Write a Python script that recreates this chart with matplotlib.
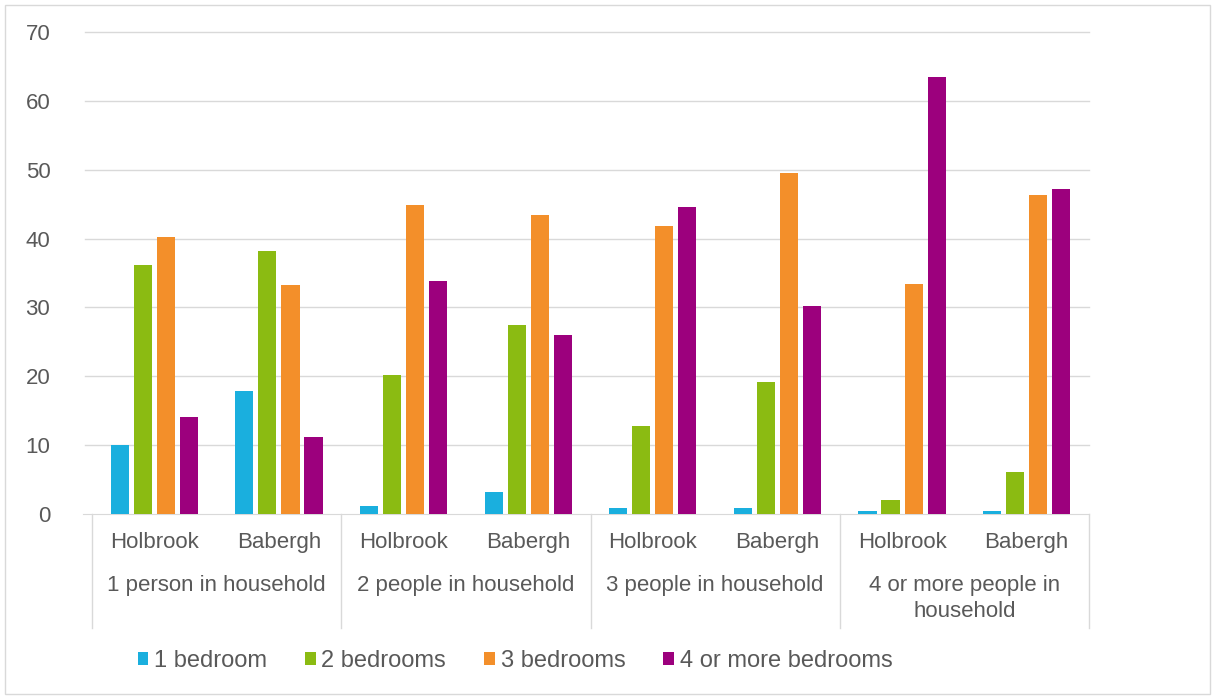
import numpy as np
import matplotlib.pyplot as plt
from matplotlib.patches import Rectangle

plt.rcParams['font.family'] = ['Liberation Sans', 'DejaVu Sans']

groups = ['1 person in household', '2 people in household',
          '3 people in household', '4 or more people in\nhousehold']
areas = ['Holbrook', 'Babergh']
series = ['1 bedroom', '2 bedrooms', '3 bedrooms', '4 or more bedrooms']
colors = ['#1AAFDE', '#8BBB12', '#F38F2A', '#9C007D']

# percentage of households, ordered Holbrook/Babergh within each household size
bed1 = [10.0, 17.9, 1.2, 3.2, 0.9, 0.9, 0.4, 0.4]
bed2 = [36.2, 38.2, 20.2, 27.4, 12.8, 19.2, 2.0, 6.1]
bed3 = [40.2, 33.3, 44.9, 43.4, 41.8, 49.5, 33.4, 46.3]
bed4 = [14.1, 11.2, 33.8, 26.0, 44.6, 30.2, 63.5, 47.2]
values = [bed1, bed2, bed3, bed4]

txt = '#595959'
grid = '#D9D9D9'
fs = 16
fig = plt.figure(figsize=(12.15, 6.99), dpi=100)
fig.patches.append(Rectangle((0.004, 0.007), 0.992, 0.986, transform=fig.transFigure,
                             fill=False, edgecolor=grid, lw=1))
ax = fig.add_axes([92 / 1215, 1 - 514 / 699, (1089 - 92) / 1215, (514 - 32) / 699])

x = np.arange(len(bed1))
w = 0.145
step = 0.185
for i, (vals, c, lab) in enumerate(zip(values, colors, series)):
    ax.bar(x + (i - 1.5) * step, vals, width=w, color=c, label=lab, zorder=3)

ax.set_xlim(-0.5, len(bed1) - 0.5)
ax.set_ylim(0, 70)
ax.set_yticks(range(0, 71, 10))
# gridlines run a little past the left edge of the plot
for t in range(10, 71, 10):
    ax.plot([-0.007, 1.0], [t, t], transform=ax.get_yaxis_transform(),
            color=grid, lw=1, clip_on=False, zorder=0)
ax.tick_params(axis='y', length=0, pad=30, labelsize=fs, labelcolor=txt)
ax.tick_params(axis='x', length=0, labelbottom=False)
for s in ['top', 'right', 'left']:
    ax.spines[s].set_visible(False)
ax.spines['bottom'].set_color(grid)
ax.spines['bottom'].set_bounds(-0.57, len(bed1) - 0.5)

# two-level category labels
xt = ax.get_xaxis_transform()
for j in range(len(bed1)):
    ax.text(x[j], -0.06, areas[j % 2], transform=xt,
            ha='center', va='center', fontsize=fs, color=txt)
for g, name in enumerate(groups):
    ax.text(2 * g + 0.5, -0.127, name, transform=xt, ha='center', va='top',
            fontsize=fs, color=txt, linespacing=1.3)
for b in range(len(groups) + 1):
    ax.plot([2 * b - 0.5] * 2, [0, -0.237], transform=xt,
            color=grid, lw=1, clip_on=False)

fig.legend(loc='center', bbox_to_anchor=(515 / 1215, 1 - 661 / 699), ncol=4,
           frameon=False, fontsize=17, labelcolor=txt, handlelength=0.45,
           handleheight=0.45, handletextpad=0.25, columnspacing=1.6)

fig.savefig('out.png', dpi=100)
